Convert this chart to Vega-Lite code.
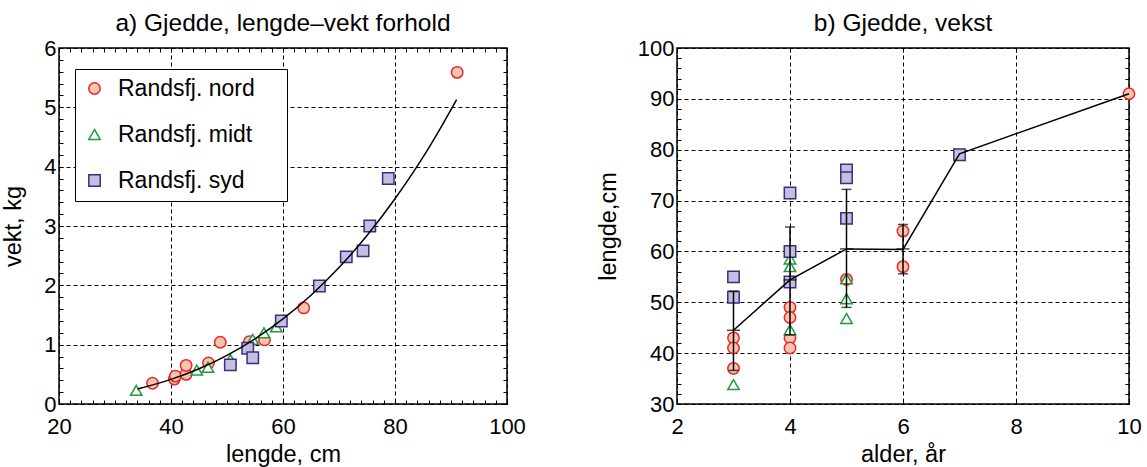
{
  "$schema": "https://vega.github.io/schema/vega-lite/v6.json",
  "padding": {"left": 1, "top": 9, "right": 0, "bottom": 0},
  "spacing": 68,
  "datasets": {
    "lv": [
      {"sjo": "Randsfj. nord", "lengde": 36.7, "vekt": 0.35},
      {"sjo": "Randsfj. nord", "lengde": 40.6, "vekt": 0.42},
      {"sjo": "Randsfj. nord", "lengde": 40.8, "vekt": 0.47},
      {"sjo": "Randsfj. nord", "lengde": 42.7, "vekt": 0.50},
      {"sjo": "Randsfj. nord", "lengde": 42.7, "vekt": 0.65},
      {"sjo": "Randsfj. nord", "lengde": 46.7, "vekt": 0.69},
      {"sjo": "Randsfj. nord", "lengde": 48.8, "vekt": 1.04},
      {"sjo": "Randsfj. nord", "lengde": 54.0, "vekt": 1.05},
      {"sjo": "Randsfj. nord", "lengde": 56.7, "vekt": 1.08},
      {"sjo": "Randsfj. nord", "lengde": 63.7, "vekt": 1.62},
      {"sjo": "Randsfj. nord", "lengde": 91.1, "vekt": 5.59},
      {"sjo": "Randsfj. midt", "lengde": 33.8, "vekt": 0.23},
      {"sjo": "Randsfj. midt", "lengde": 44.6, "vekt": 0.57},
      {"sjo": "Randsfj. midt", "lengde": 46.6, "vekt": 0.62},
      {"sjo": "Randsfj. midt", "lengde": 50.6, "vekt": 0.75},
      {"sjo": "Randsfj. midt", "lengde": 54.6, "vekt": 1.09},
      {"sjo": "Randsfj. midt", "lengde": 56.6, "vekt": 1.20},
      {"sjo": "Randsfj. midt", "lengde": 58.8, "vekt": 1.30},
      {"sjo": "Randsfj. syd", "lengde": 50.6, "vekt": 0.66},
      {"sjo": "Randsfj. syd", "lengde": 53.7, "vekt": 0.94},
      {"sjo": "Randsfj. syd", "lengde": 54.6, "vekt": 0.78},
      {"sjo": "Randsfj. syd", "lengde": 59.7, "vekt": 1.40},
      {"sjo": "Randsfj. syd", "lengde": 66.5, "vekt": 1.99},
      {"sjo": "Randsfj. syd", "lengde": 71.3, "vekt": 2.48},
      {"sjo": "Randsfj. syd", "lengde": 74.3, "vekt": 2.58},
      {"sjo": "Randsfj. syd", "lengde": 75.5, "vekt": 3.00},
      {"sjo": "Randsfj. syd", "lengde": 78.8, "vekt": 3.80}
    ],
    "kurve": [
      {"lengde": 34, "vekt": 0.252},
      {"lengde": 40, "vekt": 0.415},
      {"lengde": 45, "vekt": 0.595},
      {"lengde": 50, "vekt": 0.821},
      {"lengde": 55, "vekt": 1.099},
      {"lengde": 60, "vekt": 1.434},
      {"lengde": 65, "vekt": 1.833},
      {"lengde": 70, "vekt": 2.299},
      {"lengde": 75, "vekt": 2.84},
      {"lengde": 80, "vekt": 3.46},
      {"lengde": 85, "vekt": 4.16},
      {"lengde": 88, "vekt": 4.63},
      {"lengde": 91, "vekt": 5.13}
    ],
    "vekst": [
      {"sjo": "Randsfj. nord", "alder": 3, "lengde": 43},
      {"sjo": "Randsfj. nord", "alder": 3, "lengde": 41},
      {"sjo": "Randsfj. nord", "alder": 3, "lengde": 37},
      {"sjo": "Randsfj. nord", "alder": 4, "lengde": 49},
      {"sjo": "Randsfj. nord", "alder": 4, "lengde": 47},
      {"sjo": "Randsfj. nord", "alder": 4, "lengde": 43},
      {"sjo": "Randsfj. nord", "alder": 4, "lengde": 41},
      {"sjo": "Randsfj. nord", "alder": 5, "lengde": 54.5},
      {"sjo": "Randsfj. nord", "alder": 6, "lengde": 64},
      {"sjo": "Randsfj. nord", "alder": 6, "lengde": 57},
      {"sjo": "Randsfj. nord", "alder": 10, "lengde": 91},
      {"sjo": "Randsfj. midt", "alder": 3, "lengde": 33.8},
      {"sjo": "Randsfj. midt", "alder": 4, "lengde": 58.5},
      {"sjo": "Randsfj. midt", "alder": 4, "lengde": 57},
      {"sjo": "Randsfj. midt", "alder": 4, "lengde": 44.6},
      {"sjo": "Randsfj. midt", "alder": 5, "lengde": 54.6},
      {"sjo": "Randsfj. midt", "alder": 5, "lengde": 50.7},
      {"sjo": "Randsfj. midt", "alder": 5, "lengde": 46.8},
      {"sjo": "Randsfj. syd", "alder": 3, "lengde": 55},
      {"sjo": "Randsfj. syd", "alder": 3, "lengde": 51},
      {"sjo": "Randsfj. syd", "alder": 4, "lengde": 71.5},
      {"sjo": "Randsfj. syd", "alder": 4, "lengde": 60},
      {"sjo": "Randsfj. syd", "alder": 4, "lengde": 54},
      {"sjo": "Randsfj. syd", "alder": 5, "lengde": 76},
      {"sjo": "Randsfj. syd", "alder": 5, "lengde": 74.5},
      {"sjo": "Randsfj. syd", "alder": 5, "lengde": 66.5},
      {"sjo": "Randsfj. syd", "alder": 7, "lengde": 79}
    ],
    "feil": [
      {"alder": 3, "lo": 36.6, "hi": 52.2, "snitt": 44.5},
      {"alder": 4, "lo": 43.6, "hi": 64.8, "snitt": 54.4},
      {"alder": 5, "lo": 49.0, "hi": 72.2, "snitt": 60.5},
      {"alder": 6, "lo": 55.6, "hi": 65.3, "snitt": 60.5}
    ],
    "snitt": [
      {"alder": 3, "lengde": 44.5},
      {"alder": 4, "lengde": 54.4},
      {"alder": 5, "lengde": 60.5},
      {"alder": 6, "lengde": 60.4},
      {"alder": 7, "lengde": 79.2},
      {"alder": 10, "lengde": 91}
    ]
  },
  "hconcat": [
    {
      "width": 448,
      "height": 356,
      "title": {"text": "a) Gjedde, lengde\u2013vekt forhold"},
      "resolve": {"axis": {"x": "independent", "y": "independent"}},
      "layer": [
        {
          "data": {"name": "lv"},
          "mark": {"type": "point", "size": 130, "strokeWidth": 1.5, "opacity": 1},
          "encoding": {
            "x": {"field": "lengde", "type": "quantitative",
              "scale": {"domain": [20, 100], "nice": false, "zero": false},
              "axis": {"title": "lengde, cm", "orient": "bottom",
                "values": [20,22,24,26,28,30,32,34,36,38,40,42,44,46,48,50,52,54,56,58,60,62,64,66,68,70,72,74,76,78,80,82,84,86,88,90,92,94,96,98,100],
                "labelExpr": "datum.value % 20 === 0 ? format(datum.value, 'd') : ''",
                "grid": true,
                "gridOpacity": {"condition": {"test": "datum.value % 20 === 0", "value": 1}, "value": 0},
                "tickSize": -4, "labelPadding": 16, "titlePadding": 5}},
            "y": {"field": "vekt", "type": "quantitative",
              "scale": {"domain": [0, 6], "nice": false},
              "axis": {"title": "vekt, kg", "orient": "left",
                "values": [0,0.2,0.4,0.6,0.8,1,1.2,1.4,1.6,1.8,2,2.2,2.4,2.6,2.8,3,3.2,3.4,3.6,3.8,4,4.2,4.4,4.6,4.8,5,5.2,5.4,5.6,5.8,6],
                "labelExpr": "abs(datum.value - round(datum.value)) < 0.001 ? format(round(datum.value), 'd') : ''",
                "grid": true,
                "gridOpacity": {"condition": {"test": "abs(datum.value - round(datum.value)) < 0.001", "value": 1}, "value": 0},
                "tickSize": -4, "labelPadding": 7, "titlePadding": 18}},
            "shape": {"field": "sjo", "type": "nominal",
              "scale": {"domain": ["Randsfj. nord", "Randsfj. midt", "Randsfj. syd"], "range": ["circle", "triangle-up", "square"]},
              "legend": {"title": null, "orient": "none", "legendX": 16, "legendY": 21, "labelExpr": "datum.label + ' \u2800'"}},
            "stroke": {"field": "sjo", "type": "nominal",
              "scale": {"domain": ["Randsfj. nord", "Randsfj. midt", "Randsfj. syd"], "range": ["#e8262a", "#1f9a3c", "#3b2f7d"]},
              "legend": {"title": null, "orient": "none", "legendX": 16, "legendY": 21, "labelExpr": "datum.label + ' \u2800'"}},
            "fill": {"field": "sjo", "type": "nominal",
              "scale": {"domain": ["Randsfj. nord", "Randsfj. midt", "Randsfj. syd"], "range": ["#f7c4ad", "#ffffff", "#c6bde3"]},
              "legend": {"title": null, "orient": "none", "legendX": 16, "legendY": 21, "labelExpr": "datum.label + ' \u2800'"}}
          }
        },
        {
          "data": {"name": "kurve"},
          "mark": {"type": "line", "color": "black", "strokeWidth": 1.5, "interpolate": "monotone"},
          "encoding": {
            "x": {"field": "lengde", "type": "quantitative", "axis": null},
            "y": {"field": "vekt", "type": "quantitative", "axis": null}
          }
        },
        {
          "data": {"name": "kurve"},
          "mark": {"type": "point", "opacity": 0},
          "encoding": {
            "x": {"field": "lengde", "type": "quantitative",
              "axis": {"orient": "top", "title": null, "labels": false, "grid": false, "tickSize": -4,
                "values": [20,22,24,26,28,30,32,34,36,38,40,42,44,46,48,50,52,54,56,58,60,62,64,66,68,70,72,74,76,78,80,82,84,86,88,90,92,94,96,98,100]}},
            "y": {"field": "vekt", "type": "quantitative",
              "axis": {"orient": "right", "title": null, "labels": false, "grid": false, "tickSize": -4,
                "values": [0,0.2,0.4,0.6,0.8,1,1.2,1.4,1.6,1.8,2,2.2,2.4,2.6,2.8,3,3.2,3.4,3.6,3.8,4,4.2,4.4,4.6,4.8,5,5.2,5.4,5.6,5.8,6]}}
          }
        }
      ]
    },
    {
      "width": 452,
      "height": 356,
      "title": {"text": "b) Gjedde, vekst"},
      "resolve": {"axis": {"x": "independent", "y": "independent"}},
      "layer": [
        {
          "data": {"name": "vekst"},
          "mark": {"type": "point", "size": 130, "strokeWidth": 1.5, "opacity": 1},
          "encoding": {
            "x": {"field": "alder", "type": "quantitative",
              "scale": {"domain": [2, 10], "nice": false, "zero": false},
              "axis": {"title": "alder, \u00e5r", "orient": "bottom", "values": [2,4,6,8,10],
                "grid": true, "tickSize": -4, "labelPadding": 16, "titlePadding": 5}},
            "y": {"field": "lengde", "type": "quantitative",
              "scale": {"domain": [30, 100], "nice": false, "zero": false},
              "axis": {"title": "lengde,cm", "orient": "left",
                "values": [30,32,34,36,38,40,42,44,46,48,50,52,54,56,58,60,62,64,66,68,70,72,74,76,78,80,82,84,86,88,90,92,94,96,98,100],
                "labelExpr": "datum.value % 10 === 0 ? datum.label : ''",
                "grid": true,
                "gridOpacity": {"condition": {"test": "datum.value % 10 === 0", "value": 1}, "value": 0},
                "tickSize": -4, "labelPadding": 7, "titlePadding": 17}},
            "shape": {"field": "sjo", "type": "nominal",
              "scale": {"domain": ["Randsfj. nord", "Randsfj. midt", "Randsfj. syd"], "range": ["circle", "triangle-up", "square"]},
              "legend": null},
            "stroke": {"field": "sjo", "type": "nominal",
              "scale": {"domain": ["Randsfj. nord", "Randsfj. midt", "Randsfj. syd"], "range": ["#e8262a", "#1f9a3c", "#3b2f7d"]},
              "legend": null},
            "fill": {"field": "sjo", "type": "nominal",
              "scale": {"domain": ["Randsfj. nord", "Randsfj. midt", "Randsfj. syd"], "range": ["#f7c4ad", "#ffffff", "#c6bde3"]},
              "legend": null}
          }
        },
        {
          "data": {"name": "feil"},
          "mark": {"type": "rule", "color": "black", "strokeWidth": 1.5},
          "encoding": {
            "x": {"field": "alder", "type": "quantitative", "axis": null},
            "y": {"field": "lo", "type": "quantitative", "axis": null},
            "y2": {"field": "hi"}
          }
        },
        {
          "data": {"name": "feil"},
          "mark": {"type": "tick", "color": "black", "orient": "horizontal", "size": 10, "thickness": 1.5},
          "encoding": {
            "x": {"field": "alder", "type": "quantitative", "axis": null},
            "y": {"field": "lo", "type": "quantitative", "axis": null}
          }
        },
        {
          "data": {"name": "feil"},
          "mark": {"type": "tick", "color": "black", "orient": "horizontal", "size": 10, "thickness": 1.5},
          "encoding": {
            "x": {"field": "alder", "type": "quantitative", "axis": null},
            "y": {"field": "hi", "type": "quantitative", "axis": null}
          }
        },
        {
          "data": {"name": "feil"},
          "mark": {"type": "tick", "color": "black", "orient": "horizontal", "size": 13, "thickness": 1.5},
          "encoding": {
            "x": {"field": "alder", "type": "quantitative", "axis": null},
            "y": {"field": "snitt", "type": "quantitative", "axis": null}
          }
        },
        {
          "data": {"name": "snitt"},
          "mark": {"type": "line", "color": "black", "strokeWidth": 1.5},
          "encoding": {
            "x": {"field": "alder", "type": "quantitative", "axis": null},
            "y": {"field": "lengde", "type": "quantitative", "axis": null}
          }
        },
        {
          "data": {"name": "snitt"},
          "mark": {"type": "point", "opacity": 0},
          "encoding": {
            "x": {"field": "alder", "type": "quantitative",
              "axis": {"orient": "top", "title": null, "labels": false, "grid": false, "tickSize": -4, "values": [2,4,6,8,10]}},
            "y": {"field": "lengde", "type": "quantitative",
              "axis": {"orient": "right", "title": null, "labels": false, "grid": false, "tickSize": -4,
                "values": [30,32,34,36,38,40,42,44,46,48,50,52,54,56,58,60,62,64,66,68,70,72,74,76,78,80,82,84,86,88,90,92,94,96,98,100]}}
          }
        }
      ]
    }
  ],
  "resolve": {"scale": {"x": "independent", "y": "independent"}},
  "config": {
    "font": "Liberation Sans",
    "background": "white",
    "view": {"stroke": "black", "strokeWidth": 1.5},
    "axis": {
      "labelFontSize": 22, "titleFontSize": 23.5, "titleFontWeight": "normal",
      "labelColor": "black", "titleColor": "black", "domain": false,
      "tickColor": "black", "tickWidth": 1, "gridColor": "black", "gridDash": [4, 3], "gridWidth": 1,
      "labelFlush": false, "labelOverlap": false, "labelFont": "Liberation Sans", "titleFont": "Liberation Sans"
    },
    "title": {"fontSize": 24.5, "fontWeight": "normal", "font": "Liberation Sans", "color": "black", "offset": 1},
    "legend": {
      "labelFontSize": 23, "labelFont": "Liberation Sans", "labelColor": "black",
      "symbolSize": 130, "symbolStrokeWidth": 1.5, "labelOffset": 12,
      "rowPadding": 22, "padding": 8, "strokeColor": "black", "fillColor": "white",
      "labelLimit": 400
    }
  }
}
